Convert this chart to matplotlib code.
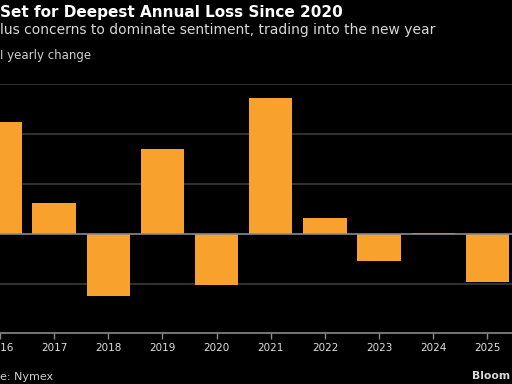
import matplotlib
matplotlib.use("Agg")
import matplotlib.pyplot as plt

# WTI yearly change (%)
years = ["2016", "2017", "2018", "2019", "2020", "2021", "2022", "2023", "2024", "2025"]
changes = [44.8, 12.3, -25.2, 34.1, -20.8, 54.6, 6.4, -11.0, 0.1, -19.4]
grid_levels = [-20, 20, 40, 60]

BG = "#000000"
BAR = "#F8A22D"

fig = plt.figure(figsize=(5.12, 3.84), dpi=100, facecolor=BG)
ax = fig.add_axes([0, 0.132, 1, 0.6485], facecolor=BG)

x = list(range(len(years)))
for lvl in grid_levels:
    ax.axhline(lvl, color="#3c3c3c", linewidth=1.2, zorder=0)
ax.bar(x, changes, width=0.8, color=BAR, zorder=2)
ax.axhline(0, color="#8a8a8a", linewidth=1.2, zorder=3)

# chart is cropped: 2016 sits just off the left edge
ax.set_ylim(-40, 60)
ax.set_xlim(0.051, 9.453)
ax.set_xticks(x)
ax.set_xticklabels(years, fontsize=7.5)
ax.set_yticks([])
for s in ["top", "left", "right"]:
    ax.spines[s].set_visible(False)
ax.spines["bottom"].set_color("#8a8a8a")
ax.spines["bottom"].set_linewidth(1.2)
ax.tick_params(axis="x", colors="#8a8a8a", length=4, width=1, pad=3, labelcolor="#e0e0e0")

fig.text(0.0, 1 - 12 / 384, "Set for Deepest Annual Loss Since 2020", color="white",
         fontsize=11, fontweight="bold", va="center", ha="left")
fig.text(0.0, 1 - 30 / 384, "lus concerns to dominate sentiment, trading into the new year",
         color="#d8d8d8", fontsize=10, va="center", ha="left")
fig.text(0.0, 1 - 55 / 384, "I yearly change", color="#d0d0d0", fontsize=8.5,
         va="center", ha="left")
fig.text(0.0, 1 - 377 / 384, "e: Nymex", color="#d0d0d0", fontsize=8,
         va="center", ha="left")
fig.text(510 / 512, 1 - 376 / 384, "Bloom", color="#d8d8d8", fontsize=7.8,
         fontweight="bold", va="center", ha="right")

fig.savefig("out.png", dpi=100, facecolor=BG)
